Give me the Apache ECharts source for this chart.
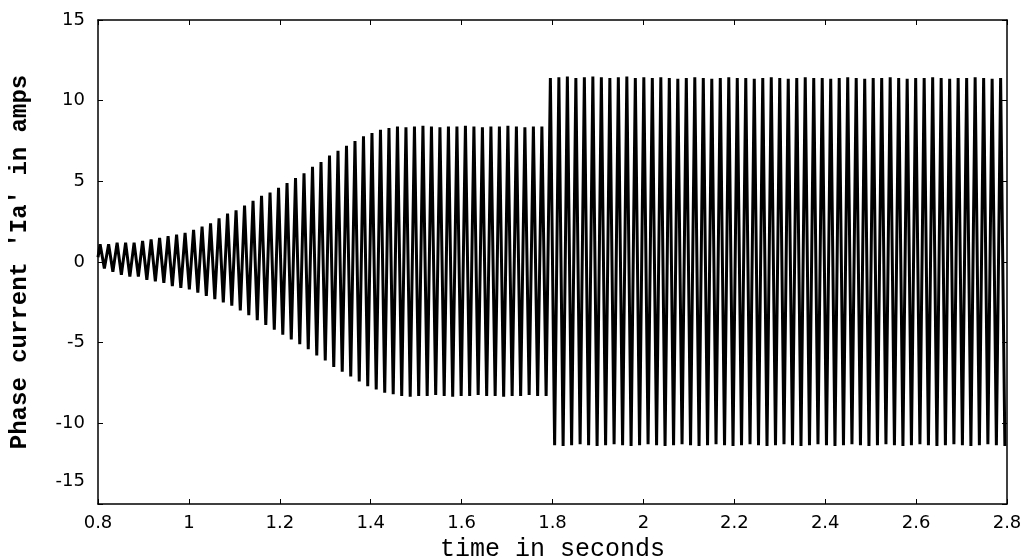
<!DOCTYPE html>
<html>
<head>
<meta charset="utf-8">
<script src="https://cdn.jsdelivr.net/npm/echarts@6/dist/echarts.min.js"></script>
<style>html,body{margin:0;padding:0;background:#fff;}#c{width:1028px;height:560px;}</style>
</head>
<body>
<div id="c"></div>
<script>
// Time axis / sampling of the cycles
const tStart = 0.8;
const tEnd = 2.8;
const cycleCount = 107; // strokes counted across 0.8..2.8 s
// Positive peak of each cycle (A)
const posPeaks = [
  1.1, 1.1, 1.2, 1.2, 1.2, 1.3, 1.4, 1.5, 1.6, 1.7,
  1.8, 2.0, 2.2, 2.4, 2.7, 3.0, 3.2, 3.5, 3.8, 4.1,
  4.3, 4.6, 4.9, 5.2, 5.5, 5.9, 6.2, 6.6, 6.9, 7.2,
  7.5, 7.8, 8.0, 8.2, 8.3,
  8.4, 8.35, 8.4, 8.45, 8.4, 8.35, 8.4, 8.4, 8.45, 8.4, 8.35, 8.4, 8.4, 8.45, 8.4, 8.35, 8.4, 8.4,
  11.4, 11.45, 11.5, 11.4, 11.45, 11.5, 11.45, 11.4, 11.45,
  11.5, 11.4, 11.45, 11.4, 11.45, 11.4, 11.35, 11.4, 11.45,
  11.4, 11.35, 11.4, 11.45, 11.4, 11.4, 11.35, 11.4, 11.45,
  11.4, 11.35, 11.4, 11.45, 11.4, 11.4, 11.35, 11.4, 11.45,
  11.4, 11.35, 11.4, 11.4, 11.45, 11.4, 11.35, 11.4, 11.4,
  11.45, 11.4, 11.35, 11.4, 11.4, 11.45, 11.4, 11.35, 11.4
];
// Negative peak of each cycle (A)
const negPeaks = [
  -0.4, -0.6, -0.8, -0.9, -0.9, -1.1, -1.2, -1.3, -1.5, -1.6,
  -1.7, -1.9, -2.1, -2.3, -2.5, -2.7, -3.0, -3.3, -3.6, -3.9,
  -4.2, -4.5, -4.8, -5.1, -5.4, -5.8, -6.1, -6.5, -6.8, -7.1,
  -7.4, -7.7, -7.9, -8.1, -8.2,
  -8.3, -8.35, -8.3, -8.3, -8.25, -8.3, -8.35, -8.3, -8.3, -8.25, -8.3, -8.3, -8.35, -8.3, -8.3, -8.25, -8.3, -8.3,
  -11.35, -11.4, -11.35, -11.3, -11.35, -11.4, -11.35, -11.3, -11.35,
  -11.4, -11.35, -11.3, -11.35, -11.4, -11.35, -11.3, -11.35, -11.4,
  -11.35, -11.3, -11.35, -11.4, -11.35, -11.3, -11.35, -11.4, -11.35,
  -11.3, -11.35, -11.4, -11.35, -11.3, -11.35, -11.4, -11.35, -11.3,
  -11.35, -11.4, -11.35, -11.3, -11.35, -11.4, -11.35, -11.3, -11.35,
  -11.4, -11.35, -11.3, -11.35, -11.4, -11.35, -11.3, -11.35, -11.4
];
const xTicks = [0.8, 1, 1.2, 1.4, 1.6, 1.8, 2, 2.2, 2.4, 2.6, 2.8];
const yTicks = [-15, -10, -5, 0, 5, 10, 15];
const xTitle = 'time in seconds';
const yTitle = "Phase current 'Ia' in amps";

const period = (tEnd - tStart) / cycleCount;
const data = [[tStart, 0.3]];
for (let i = 0; i < cycleCount; i++) {
  data.push([tStart + (i + 0.25) * period, posPeaks[i]]);
  data.push([tStart + (i + 0.75) * period, negPeaks[i]]);
}

const chart = echarts.init(document.getElementById('c'), null, {renderer: 'canvas'});
const labelFont = {fontFamily: 'DejaVu Sans', fontSize: 18, color: '#000'};
const axisLine = {show: true, onZero: false, lineStyle: {color: '#000', width: 1.5}};
const tick = {show: true, inside: true, length: 5, lineStyle: {color: '#000'}};
chart.setOption({
  animation: false,
  backgroundColor: '#fff',
  grid: {left: 98, right: 21, top: 20, bottom: 56, containLabel: false, outerBoundsMode: 'none'},
  xAxis: [{
    type: 'value', min: xTicks[0], max: xTicks[xTicks.length - 1], interval: 0.2,
    position: 'bottom',
    name: xTitle, nameLocation: 'middle', nameGap: 32,
    nameTextStyle: {fontFamily: 'Liberation Mono', fontSize: 25, color: '#000'},
    axisLine: axisLine, axisTick: tick,
    axisLabel: Object.assign({margin: 10, formatter: v => String(+v.toFixed(1))}, labelFont),
    splitLine: {show: false}
  }, {
    type: 'value', min: xTicks[0], max: xTicks[xTicks.length - 1], interval: 0.2,
    position: 'top',
    axisLine: axisLine, axisTick: tick,
    axisLabel: {show: false},
    splitLine: {show: false}
  }],
  yAxis: [{
    type: 'value', min: yTicks[0], max: yTicks[yTicks.length - 1], interval: 5,
    position: 'left',
    name: yTitle, nameLocation: 'middle', nameGap: 66, nameRotate: 90,
    nameTextStyle: {fontFamily: 'Liberation Mono', fontWeight: 'bold', fontSize: 24, color: '#000'},
    axisLine: axisLine, axisTick: tick,
    axisLabel: Object.assign({
      margin: 13,
      formatter: v => (v === yTicks[0] ? '{low|' + v + '}' : String(v)),
      rich: {low: {fontFamily: 'DejaVu Sans', fontSize: 18, color: '#000', padding: [0, 0, 46, 0]}}
    }, labelFont),
    splitLine: {show: false}
  }, {
    type: 'value', min: yTicks[0], max: yTicks[yTicks.length - 1], interval: 5,
    position: 'right',
    axisLine: axisLine, axisTick: tick,
    axisLabel: {show: false},
    splitLine: {show: false}
  }],
  series: [{
    type: 'line',
    data: data,
    showSymbol: false,
    symbol: 'none',
    lineStyle: {color: '#000', width: 3},
    xAxisIndex: 0, yAxisIndex: 0
  }]
});
</script>
</body>
</html>
